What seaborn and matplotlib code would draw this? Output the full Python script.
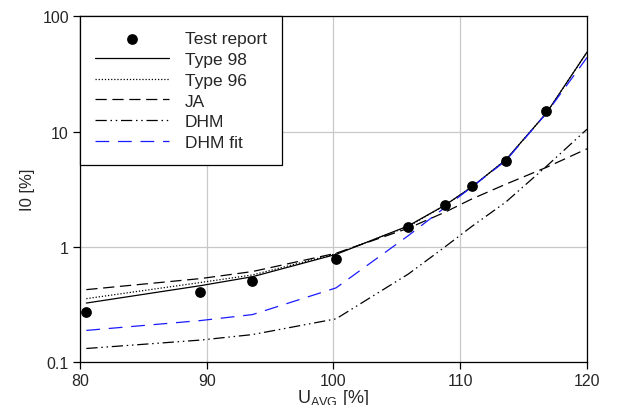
import numpy as np
import pandas as pd
import matplotlib
matplotlib.use("Agg")
import matplotlib.pyplot as plt
import seaborn as sns

# ---------------------------------------------------------------
# Data
# ---------------------------------------------------------------
u_test = [80.5, 89.5, 93.6, 100.2, 105.9, 108.8, 110.9, 113.6, 116.8]
i0_test = [0.274, 0.404, 0.503, 0.78, 1.49, 2.33, 3.39, 5.55, 15.2]

u_model = [80.5, 89.5, 93.6, 100.2, 105.9, 108.8, 110.9, 113.6, 116.8, 120.0]
type98 = [0.325, 0.46, 0.55, 0.86, 1.52, 2.3, 3.3, 5.7, 14.5, 49.0]
type96 = [0.355, 0.49, 0.57, 0.87, 1.50, 2.3, 3.3, 5.7, 14.5, 49.0]
ja = [0.425, 0.53, 0.61, 0.88, 1.45, 2.0, 2.6, 3.5, 4.9, 7.1]
dhm = [0.131, 0.155, 0.173, 0.237, 0.58, 1.0, 1.5, 2.45, 5.0, 10.5]
dhm_fit = [0.188, 0.229, 0.258, 0.44, 1.25, 2.2, 3.3, 5.6, 14.5, 44.0]

series = [
    ("Type 98", type98, "black", "-"),
    ("Type 96", type96, "black", (0, (1, 1.5))),
    ("JA", ja, "black", (0, (9, 4.5))),
    ("DHM", dhm, "black", (0, (9, 3, 1.2, 3, 1.2, 3))),
    ("DHM fit", dhm_fit, "#1a1aff", (0, (11, 7))),
]

# ---------------------------------------------------------------
# Plot
# ---------------------------------------------------------------
sns.set_style("white")
plt.rcParams["font.family"] = ["Liberation Sans", "DejaVu Sans"]
plt.rcParams["mathtext.fontset"] = "custom"
plt.rcParams["mathtext.rm"] = "Liberation Sans"
plt.rcParams["mathtext.it"] = "Liberation Sans:italic"
plt.rcParams["font.size"] = 11.5

fig = plt.figure(figsize=(6.22, 4.06), dpi=100)
ax = fig.add_axes([0.1286, 0.1059, 0.8151, 0.851])

test_df = pd.DataFrame({"U": u_test, "I0": i0_test})
sns.scatterplot(data=test_df, x="U", y="I0", ax=ax, color="black", s=60,
                edgecolor="black", linewidth=0, label="Test report", zorder=5)

for name, vals, col, ls in series:
    df = pd.DataFrame({"U": u_model, "I0": vals})
    sns.lineplot(data=df, x="U", y="I0", ax=ax, color=col, linestyle=ls,
                 linewidth=0.9, label=name, sort=False)

ax.set_yscale("log")
ax.set_xlim(80, 120)
ax.set_ylim(0.1, 100)
ax.set_xticks([80, 90, 100, 110, 120])
ax.set_yticks([0.1, 1, 10, 100])
ax.set_yticklabels(["0.1", "1", "10", "100"])
ax.yaxis.set_minor_locator(matplotlib.ticker.NullLocator())
ax.grid(True, which="major", color="#c8c8c8", linewidth=0.9)
ax.tick_params(axis="both", which="major", direction="out", length=5,
               width=0.9, color="black", labelsize=11.5, pad=3, left=True, bottom=True)
for sp in ax.spines.values():
    sp.set_color("black")
    sp.set_linewidth(0.9)

ax.set_xlabel(r"U$_{\mathrm{AVG}}$ [%]", fontsize=13, labelpad=-1)
ax.set_ylabel("I0 [%]", fontsize=12, labelpad=5)

leg = ax.legend(loc="upper left", frameon=True, fancybox=False, framealpha=1,
                edgecolor="black", borderaxespad=0, handlelength=4.3,
                labelspacing=0.32, handletextpad=0.9, borderpad=0.85,
                fontsize=12.5)
leg.get_frame().set_linewidth(0.9)

fig.savefig("out.png", dpi=100)
